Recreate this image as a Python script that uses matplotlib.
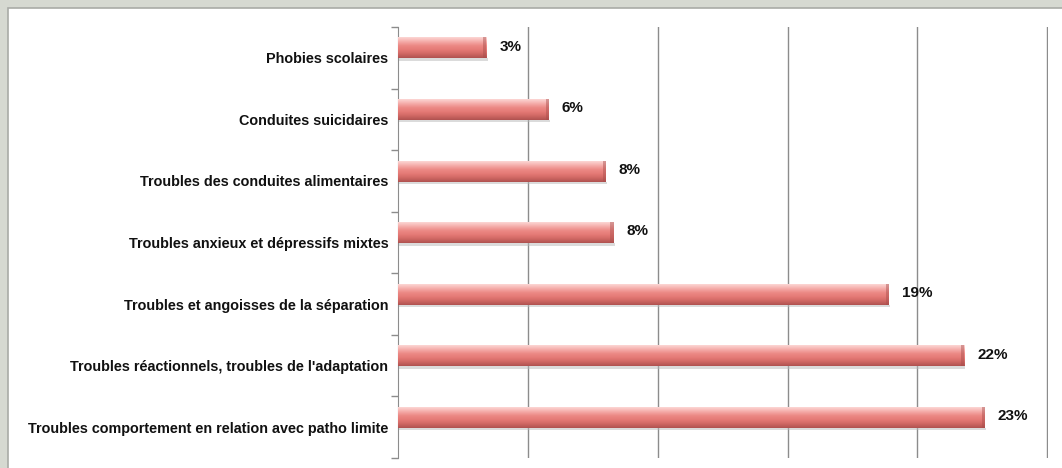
import numpy as np
import matplotlib.pyplot as plt
from matplotlib.colors import LinearSegmentedColormap
from matplotlib.patches import Rectangle

# Data (top to bottom as displayed)
categories = [
    "Phobies scolaires",
    "Conduites suicidaires",
    "Troubles des conduites alimentaires",
    "Troubles anxieux et dépressifs mixtes",
    "Troubles et angoisses de la séparation",
    "Troubles réactionnels, troubles de l'adaptation",
    "Troubles comportement en relation avec patho limite",
]
values = [3.4, 5.8, 8.0, 8.3, 18.9, 21.8, 22.6]
labels = ["3%", "6%", "8%", "8%", "19%", "22%", "23%"]

FONT = "Liberation Sans"

W, H = 1062, 468
fig = plt.figure(figsize=(W / 100, H / 100), dpi=100)
fig.patch.set_facecolor("#d6d9d1")

# white panel with grey border
panel = Rectangle((8 / W, -0.01), 1.0, 1 - 8 / H + 0.01, transform=fig.transFigure,
                  facecolor="white", edgecolor="#a9aba6", linewidth=1.2, zorder=-10)
fig.patches.append(panel)

ax = fig.add_axes([398 / W, 1 - 458 / H, 650 / W, 431 / H])
ax.set_facecolor("none")
ax.set_zorder(5)

y = np.arange(len(categories))
# bars sit slightly above the category centre (as in the original)
bar_y = y - 0.16
bars = ax.barh(bar_y, values, height=0.34, color="#e9817d", edgecolor="none", zorder=3)

# vertical gradient for each bar (light top, darker bottom)
cmap = LinearSegmentedColormap.from_list(
    "bar", ["#fcd6d4", "#f5aeab", "#ec8a86", "#e57a76", "#d06864", "#b05250"])
grad = np.linspace(0, 1, 64).reshape(-1, 1)
for b in bars:
    x0, y0, w, h = b.get_x(), b.get_y(), b.get_width(), b.get_height()
    im = ax.imshow(grad, cmap=cmap, aspect="auto", extent=(x0, x0 + w, y0 + h, y0),
                   origin="upper", zorder=4, interpolation="bilinear")
    im.set_clip_path(b)
    # darker bevel at the bar end
    ax.add_patch(Rectangle((x0 + w - 0.12, y0), 0.12, h, facecolor="#a84c4a",
                           alpha=0.45, edgecolor="none", zorder=5))
    # soft shadow under the bar
    ax.add_patch(Rectangle((x0 + 0.05, y0 + h), w, 0.04, facecolor="#b8b8b8",
                           alpha=0.5, edgecolor="none", zorder=2))

for yb, v, lab in zip(bar_y, values, labels):
    ax.text(v + 0.5, yb - 0.02, lab, va="center", ha="left", fontsize=11,
            fontweight="bold", family=FONT, color="#111111")

ax.set_xlim(0, 25.03)
ax.set_ylim(len(categories) - 0.5, -0.5)
ax.set_xticks([5, 10, 15, 20, 25])
ax.xaxis.grid(True, color="#8c8c8c", linewidth=1)
ax.set_axisbelow(True)
ax.tick_params(axis="x", length=0, labelbottom=False)

ax.set_yticks(y)
ax.set_yticklabels(categories, fontsize=10.4, fontweight="bold", family=FONT,
                   color="#111111")
ax.set_yticks(np.arange(len(categories) + 1) - 0.5, minor=True)
ax.tick_params(axis="y", which="major", length=0, pad=7)
ax.tick_params(axis="y", which="minor", length=5, color="#8c8c8c", width=1)

for s in ["top", "right", "bottom"]:
    ax.spines[s].set_visible(False)
ax.spines["left"].set_color("#8c8c8c")

fig.savefig("out.png", dpi=100, facecolor=fig.get_facecolor())
